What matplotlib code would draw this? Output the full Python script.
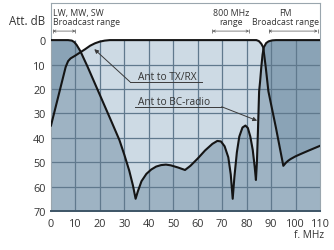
import matplotlib
matplotlib.use("Agg")
import matplotlib.pyplot as plt

# Attenuation curves (frequency in MHz, attenuation in dB)
tx_f = [0, 2, 4, 6, 7, 8, 10, 12, 14, 16, 18, 20, 22, 24, 30, 60, 84, 85, 86,
        86.8, 87.8, 88.9, 92, 95, 96, 97, 98, 100, 102, 105, 110]
tx_att = [35, 27, 19, 11, 8.6, 7.5, 6.3, 5.0, 3.7, 2.3, 1.3, 0.6, 0.2, 0, 0, 0, 0, 0.4, 1.5,
          3.0, 11, 21, 36, 51.5, 50.3, 49.4, 48.7, 47.6, 46.7, 45.4, 43.3]

bc_f = [0, 7, 8.5, 9.5, 10.5, 12, 15, 20, 25, 28, 30, 32, 33.5, 34.6, 35.5, 37, 39,
        41, 43, 45, 47, 49, 52, 54.8, 57, 60, 63, 66, 68, 69.5, 71, 72.5, 73.5,
        74.3, 75, 76, 77, 78.3, 79.5, 80.5, 81.5, 82.5, 83.3, 83.8, 84.2, 84.6,
        85.1, 85.5, 86, 86.5, 87, 88, 89, 90.5, 92, 110]
bc_att = [0, 0, 0.2, 0.8, 2, 4.5, 11, 22.5, 34, 41, 47, 53.5, 59.5, 65, 62, 57.8, 54.8,
          53, 51.8, 51.2, 51, 51.3, 52.2, 53.2, 51.5, 48.5, 45.2, 42.5, 41.3, 41.5, 43.5, 48, 55,
          65, 56, 46, 39.5, 35.8, 35, 36, 39.5, 45, 52, 57.3, 50, 38,
          21, 17, 11, 6, 3, 1.2, 0.5, 0.1, 0, 0]

freq_ticks = list(range(0, 111, 10))
att_ticks = list(range(0, 71, 10))

# frequency bands shown in the header: (label, start, end, alignment)
bands = [("LW, MW, SW\nBroadcast range", 0.8, 10.0, "left"),
         ("800 MHz\nrange", 66.0, 81.0, "center"),
         ("FM\nBroadcast range", 89.0, 109.0, "right")]

# callouts: (label, arrow tip, elbow, end of underline)
callouts = [("Ant to TX/RX", (17.7, 3.7), (32.3, 17.1), 61.8),
            ("Ant to BC-radio", (84.3, 33.0), (69.8, 27.3), 34.4)]

WHITE = "#ffffff"
LIGHT = "#cddae4"
MID = "#9eb3c3"
DARK = "#8aa3b6"
GRID = "#60798d"
TEXT = "#333333"

plt.rcParams["font.family"] = ["Open Sans", "DejaVu Sans"]

fig = plt.figure(figsize=(3.34, 2.51), dpi=100)
ax = fig.add_axes([51 / 334, 1 - 212 / 251, 269 / 334, 208 / 251])
ax.set_facecolor(WHITE)

ax.set_xlim(0, 110)
ax.set_ylim(70, -15.2)

# shaded areas
ax.fill_between(tx_f, tx_att, 70, color=LIGHT, lw=0, zorder=1)
bc_fill = ax.fill_between(bc_f, bc_att, 70, color=DARK, lw=0, zorder=1.1)
both = ax.fill_between(tx_f, tx_att, 70, color=MID, lw=0, zorder=1.2)
both.set_clip_path(bc_fill.get_paths()[0], ax.transData)

# grid only inside the data area
ax.vlines(freq_ticks[1:-1], 0, 70, color=GRID, lw=0.9, zorder=2)
ax.hlines(att_ticks[1:-1], 0, 110, color=GRID, lw=0.9, zorder=2)

ax.plot(tx_f, tx_att, color="#151515", lw=1.5, zorder=3, solid_joinstyle="round")
ax.plot(bc_f, bc_att, color="#151515", lw=1.5, zorder=3, solid_joinstyle="round")

ax.set_xticks(freq_ticks)
ax.set_yticks(att_ticks)
ax.tick_params(length=0, labelsize=7.8, labelcolor=TEXT)
ax.tick_params(axis="x", pad=5)
ax.tick_params(axis="y", pad=4)

for side in ["top", "right", "left"]:
    ax.spines[side].set_color("#9aa6ae")
    ax.spines[side].set_linewidth(0.8)
ax.spines["bottom"].set_color("#3e5567")
ax.spines["bottom"].set_linewidth(1.4)

ax.text(-2.4, -8.2, "Att. dB", ha="right", va="center", fontsize=8.3,
        color=TEXT, clip_on=False)
ax.text(111.8, 79.5, "f. MHz", ha="right", va="center", fontsize=7.3,
        color=TEXT, clip_on=False)

# band labels and range arrows in the header
for label, start, end, align in bands:
    if align == "left":
        tx = start
    elif align == "right":
        tx = end + 0.5
    else:
        tx = (start + end) / 2
    ax.text(tx, -9.6, label, ha=align, va="center", fontsize=6.3, color=TEXT,
            linespacing=1.0, multialignment=align if align != "right" else "center")
    ax.annotate("", xy=(end, -3.7), xytext=(start, -3.7),
                arrowprops=dict(arrowstyle="<->", color="#555555", lw=0.5,
                                mutation_scale=4, shrinkA=0, shrinkB=0))
    ax.vlines([start, end], -4.6, -2.8, color="#555555", lw=0.5)

# callouts
for label, tip, elbow, end in callouts:
    ax.annotate("", xy=tip, xytext=elbow, zorder=4,
                arrowprops=dict(arrowstyle="-|>", color="#3a3a3a", lw=0.7,
                                mutation_scale=6, shrinkA=0, shrinkB=0))
    ax.plot([elbow[0], end], [elbow[1], elbow[1]], color="#3a3a3a", lw=0.7, zorder=4)
    ax.text(35.6, elbow[1] - 1.0, label, ha="left", va="baseline", fontsize=7.3,
            color=TEXT, zorder=4)

fig.savefig("out.png", dpi=100)
